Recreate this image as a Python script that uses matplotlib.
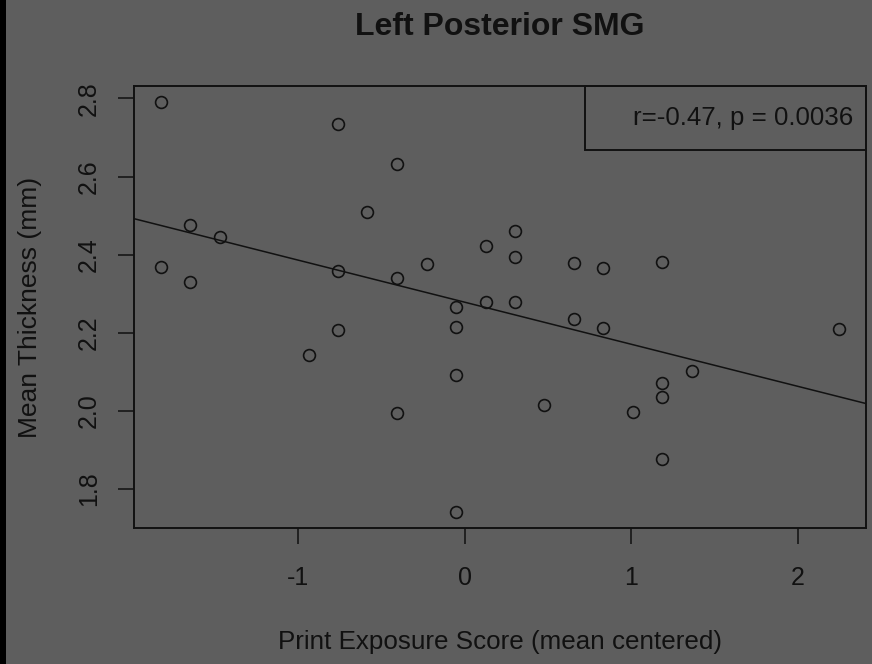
import numpy as np
import matplotlib
matplotlib.use('Agg')
import matplotlib.pyplot as plt
from matplotlib.patches import Rectangle

plt.rcParams['font.family'] = ['Liberation Sans', 'DejaVu Sans']

# print exposure score (mean centered) vs mean thickness (mm)
print_exposure = [-1.825, -1.825, -1.651, -1.651, -1.472, -0.939, -0.763, -0.763, -0.763,
                  -0.587, -0.409, -0.409, -0.409, -0.230, -0.054, -0.054, -0.054, -0.054,
                  0.124, 0.124, 0.300, 0.300, 0.300, 0.477, 0.653, 0.653, 0.829, 0.829,
                  1.008, 1.186, 1.186, 1.186, 1.186, 1.362, 2.246]
thickness = [2.790, 2.368, 2.476, 2.329, 2.444, 2.142, 2.735, 2.357, 2.207,
             2.510, 2.632, 2.341, 1.994, 2.377, 2.266, 2.214, 2.091, 1.742,
             2.423, 2.279, 2.460, 2.395, 2.278, 2.015, 2.379, 2.234, 2.365, 2.211,
             1.998, 2.381, 2.072, 2.036, 1.878, 2.102, 2.210]
x_ticks = [-1, 0, 1, 2]
y_ticks = [1.8, 2.0, 2.2, 2.4, 2.6, 2.8]
stat_label = 'r=-0.47, p = 0.0036'

bg = '#5e5e5e'
ink = '#111111'

fig = plt.figure(figsize=(8.72, 6.64), dpi=100, facecolor=bg)
ax = fig.add_axes([134 / 872, 1 - 528 / 664, 732 / 872, 442 / 664])
ax.set_facecolor(bg)

x = np.array(print_exposure)
y = np.array(thickness)
ax.plot(x, y, 'o', mfc='none', mec=ink, ms=8.5, mew=1.2)
slope, intercept = np.polyfit(x, y, 1)
ax.axline((0, intercept), slope=slope, color=ink, lw=1.1)
ax.margins(x=0.04, y=0.04)

ax.set_xticks(x_ticks)
ax.set_yticks(y_ticks)
ax.set_xticklabels([str(v) for v in x_ticks])
ax.set_yticklabels(['%.1f' % v for v in y_ticks], rotation=90, va='center')
ax.tick_params(colors=ink, labelcolor=ink, length=11.5, width=1.1, labelsize=18)
ax.tick_params(axis='x', pad=16)
ax.tick_params(axis='y', pad=12.5)
for s in ax.spines.values():
    s.set_color(ink)
    s.set_linewidth(1.4)

ax.set_title('Left Posterior SMG', fontsize=23, fontweight='bold', color=ink, pad=36.5)
ax.set_xlabel('Print Exposure Score (mean centered)', fontsize=18.7, color=ink, labelpad=29)
ax.set_ylabel('Mean Thickness (mm)', fontsize=19, color=ink, labelpad=25)

# legend box in the top right corner
ax.add_patch(Rectangle((0.616, 0.855), 0.384, 0.145, transform=ax.transAxes,
                       fill=False, edgecolor=ink, lw=1.4, clip_on=False))
ax.text(0.982, 0.928, stat_label, transform=ax.transAxes, ha='right', va='center',
        fontsize=18.6, color=ink)

# dark strip along the left edge
fig.patches.append(Rectangle((0, 0), 6 / 872, 1, transform=fig.transFigure,
                             facecolor='black', edgecolor='none'))

fig.savefig('out.png', dpi=100, facecolor=bg)
